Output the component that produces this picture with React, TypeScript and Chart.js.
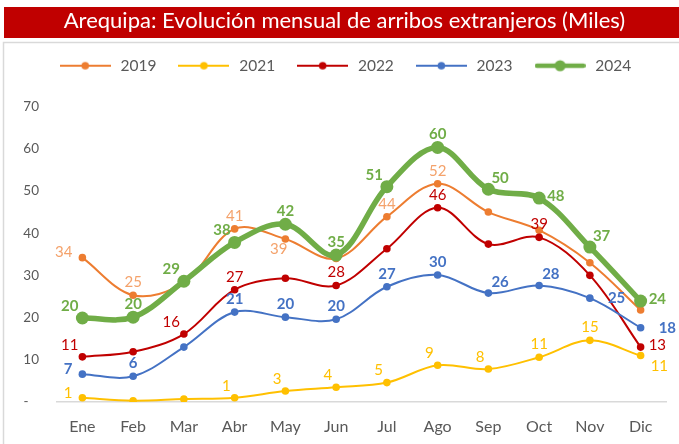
import { useEffect, useRef } from 'react';
import { Chart, registerables } from 'chart.js';

Chart.register(...registerables);

const TITLE = 'Arequipa: Evolución mensual de arribos extranjeros (Miles)';
const months = ['Ene', 'Feb', 'Mar', 'Abr', 'May', 'Jun', 'Jul', 'Ago', 'Sep', 'Oct', 'Nov', 'Dic'];
const years = ['2019', '2021', '2022', '2023', '2024'];

const v2019 = [34.2, 25.3, 28.3, 41.0, 38.6, 34.0, 43.9, 51.7, 45.0, 40.7, 33.0, 21.8];
const v2021 = [1.0, 0.3, 0.7, 1.0, 2.6, 3.5, 4.6, 8.7, 7.8, 10.6, 14.6, 11.0];
const v2022 = [10.7, 11.9, 16.1, 26.6, 29.3, 27.6, 36.3, 46.0, 37.4, 39.0, 30.0, 13.0];
const v2023 = [6.6, 6.1, 13.0, 21.3, 20.1, 19.6, 27.3, 30.1, 25.8, 27.6, 24.6, 17.6];
const v2024 = [19.9, 20.1, 28.6, 37.8, 42.1, 34.8, 51.0, 60.3, 50.4, 48.3, 36.7, 23.9];

// data-label placement per point (null = no label shown)
const lab2019 = ['l', 'a', null, 'a', 'bl', null, 'a', 'a', null, null, null, null];
const lab2021 = ['l', null, null, 'al', 'al', 'al', 'al', 'al', 'al', 'a', 'a', 'br'];
const lab2022 = ['al', null, 'al', 'a', null, 'a', null, 'a', null, 'a', null, 'r'];
const lab2023 = ['l', 'a', null, 'a', 'a', 'a', 'a', 'a', 'ar', 'ar', 'rr', 'rr'];
const lab2024 = ['al', 'a', 'al', 'al', 'a', 'a', 'al', 'a', 'ar', 'r', 'ar', 'r'];

const yMin = 0;
const yMax = 70;
const yStep = 10;

const values = [v2019, v2021, v2022, v2023, v2024];
const placements = [lab2019, lab2021, lab2022, lab2023, lab2024];
const styles = [
  { color: '#ED7D31', label: '#F4A26B', width: 2, radius: 3.8, bold: false, order: 4 },
  { color: '#FFC000', label: '#FFC000', width: 2, radius: 3.8, bold: false, order: 3 },
  { color: '#C00000', label: '#C00000', width: 2, radius: 3.8, bold: false, order: 2 },
  { color: '#4472C4', label: '#4472C4', width: 2, radius: 3.8, bold: true, order: 1 },
  { color: '#70AD47', label: '#70AD47', width: 5.5, radius: 6.5, bold: true, order: 0 },
];

const OFF: Record<string, [number, number, CanvasTextAlign]> = {
  a: [0, -13, 'center'],
  b: [0, 11, 'center'],
  al: [-4, -12, 'right'],
  ar: [3, -11, 'left'],
  l: [-10, -5, 'right'],
  r: [8, -2, 'left'],
  rr: [18, 0, 'left'],
  bl: [2, 10, 'right'],
  br: [10, 11, 'left'],
};

const FONT = 'Lato';

function makeSample(color: string, lw: number, r: number, round: boolean) {
  const c = document.createElement('canvas');
  c.width = 51;
  c.height = 14;
  const ctx = c.getContext('2d')!;
  ctx.strokeStyle = color;
  ctx.lineWidth = lw;
  ctx.lineCap = round ? 'round' : 'butt';
  ctx.beginPath();
  const inset = round ? lw / 2 : 0;
  ctx.moveTo(inset, 7);
  ctx.lineTo(51 - inset, 7);
  ctx.stroke();
  ctx.fillStyle = color;
  ctx.beginPath();
  ctx.arc(25.5, 7, r, 0, Math.PI * 2);
  ctx.fill();
  return c;
}

const framePlugin = {
  id: 'framePlugin',
  beforeDraw(chart: any) {
    const ctx = chart.ctx;
    ctx.save();
    ctx.fillStyle = '#C00000';
    ctx.fillRect(4, 7, chart.width - 4, 31);
    ctx.strokeStyle = '#D9D9D9';
    ctx.lineWidth = 1.5;
    ctx.beginPath();
    ctx.moveTo(3.5, chart.height);
    ctx.lineTo(3.5, 42.5);
    ctx.lineTo(chart.width, 42.5);
    ctx.stroke();
    ctx.restore();
  },
};

const labelPlugin = {
  id: 'labelPlugin',
  afterDatasetsDraw(chart: any) {
    const ctx = chart.ctx;
    ctx.save();
    ctx.textBaseline = 'middle';
    chart.data.datasets.forEach((ds: any, i: number) => {
      const meta = chart.getDatasetMeta(i);
      const st = styles[i];
      ctx.font = `${st.bold ? 'bold ' : ''}15px ${FONT}`;
      ctx.fillStyle = st.label;
      placements[i].forEach((p, j) => {
        if (!p) return;
        const el = meta.data[j];
        const [dx, dy, align] = OFF[p];
        ctx.textAlign = align;
        ctx.fillText(String(Math.round(ds.data[j])), el.x + dx, el.y + dy);
      });
    });
    ctx.restore();
  },
};

export default function App() {
  const ref = useRef<HTMLCanvasElement>(null);
  useEffect(() => {
    const samples = styles.map((s, i) => makeSample(s.color, i === 4 ? 4.5 : 2, i === 4 ? 5.5 : 3.8, i === 4));
    const chart = new Chart(ref.current!, {
      type: 'line',
      data: {
        labels: months,
        datasets: years.map((y, i) => ({
          label: y,
          data: values[i],
          borderColor: styles[i].color,
          backgroundColor: styles[i].color,
          borderWidth: styles[i].width,
          pointRadius: styles[i].radius,
          pointBorderWidth: 0,
          pointBackgroundColor: styles[i].color,
          tension: 0.35,
          order: styles[i].order,
          fill: false,
        })),
      },
      options: {
        responsive: false,
        animation: false,
        events: [],
        layout: { padding: { top: 0, left: 23, right: 13, bottom: 8 } },
        plugins: {
          tooltip: { enabled: false },
          title: {
            display: true,
            text: TITLE,
            color: '#FFFFFF',
            font: { family: FONT, size: 22, weight: 'normal', lineHeight: 1.2 },
            padding: { top: 8, bottom: 3.6 },
          },
          subtitle: {
            display: true,
            text: '',
            font: { size: 1, lineHeight: 1 },
            padding: { top: 22, bottom: 0 },
          },
          legend: {
            position: 'top',
            weight: 1600,
            labels: {
              usePointStyle: true,
              pointStyleWidth: 55,
              padding: 20,
              color: '#595959',
              font: { family: FONT, size: 15.5 },
              generateLabels: (c: any) =>
                c.data.datasets.map((ds: any, i: number) => ({
                  text: ds.label,
                  pointStyle: samples[i],
                  fillStyle: styles[i].color,
                  strokeStyle: styles[i].color,
                  lineWidth: 0,
                  hidden: false,
                  datasetIndex: i,
                  fontColor: '#595959',
                })),
            },
          },
        } as any,
        scales: {
          x: {
            offset: true,
            grid: { display: false, drawTicks: false },
            border: { display: true, color: '#D9D9D9', width: 1.5 },
            ticks: { color: '#595959', font: { family: FONT, size: 16 }, padding: 15 },
            afterFit: (s: any) => { s.height = 34; },
          },
          y: {
            min: yMin,
            max: yMax,
            grid: { display: false, drawTicks: false },
            border: { display: false },
            ticks: {
              stepSize: yStep,
              color: '#595959',
              font: { family: FONT, size: 13.5 },
              padding: 18,
              callback: (v: any) => (Number(v) === 0 ? '-   ' : String(v)),
            },
            afterFit: (s: any) => { s.width = 34; },
          },
        },
      },
      plugins: [framePlugin, labelPlugin],
    });
    return () => chart.destroy();
  }, []);
  return (
    <div style={{ position: 'fixed', left: 0, top: 0, width: 679, height: 444, background: '#fff' }}>
      <canvas ref={ref} width={679} height={444} style={{ display: 'block' }} />
    </div>
  );
}
